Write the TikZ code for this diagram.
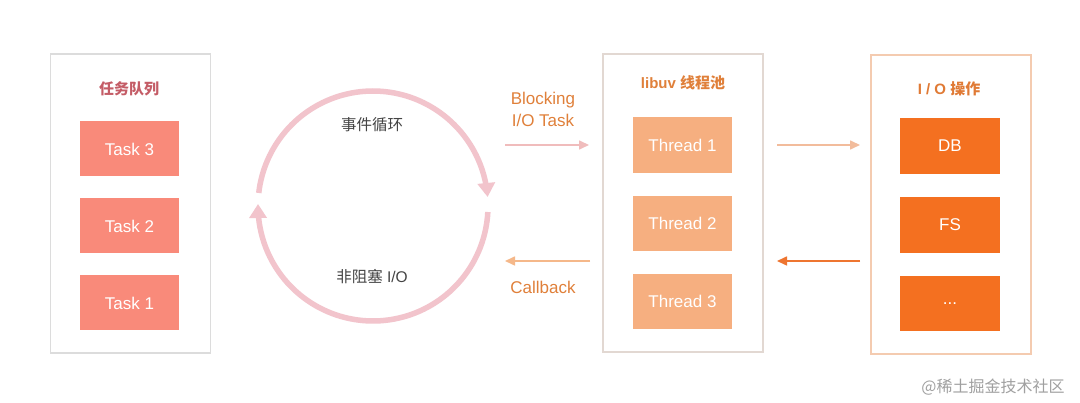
\documentclass[tikz,border=0pt]{standalone}
\usepackage{fontspec}
\setmainfont{Liberation Sans}
\newfontfamily\cjk{Noto Sans CJK SC}
\usetikzlibrary{arrows.meta}
\definecolor{taskfill}{HTML}{F98A7A}
\definecolor{taskttl}{HTML}{C45C66}
\definecolor{thrfill}{HTML}{F6AF80}
\definecolor{orgtxt}{HTML}{E0803A}
\definecolor{iofill}{HTML}{F47020}
\definecolor{iottl}{HTML}{E07A35}
\definecolor{ringc}{HTML}{F2C4CC}
\definecolor{bordL}{HTML}{DCDCDC}
\definecolor{bordM}{HTML}{E2D8D2}
\definecolor{bordR}{HTML}{F4CBB0}
\definecolor{arrPink}{HTML}{F0BCBC}
\definecolor{arrLOrg}{HTML}{F5B88A}
\definecolor{arrLOrg2}{HTML}{F2BC9C}
\definecolor{arrOrg}{HTML}{EE7530}
\definecolor{darktxt}{HTML}{444444}
\definecolor{wmark}{HTML}{A0A0A0}
\tikzset{
  panel/.style={draw, line width=1.2pt, minimum width=160pt, inner sep=0pt},
  boxbase/.style={minimum width=99pt, minimum height=55pt, inner sep=0pt, text=white, font=\fontsize{17}{20}\selectfont},
  taskbox/.style={boxbase, fill=taskfill},
  thrbox/.style={boxbase, fill=thrfill},
  iobox/.style={boxbase, fill=iofill, minimum width=100pt},
  ttl/.style={font=\fontsize{15}{18}\selectfont\bfseries, inner sep=0pt},
  lbl/.style={font=\fontsize{17}{22}\selectfont, text=orgtxt, align=center, inner sep=0pt},
  ringlbl/.style={font=\fontsize{15.5}{18}\selectfont, text=darktxt, inner sep=0pt},
  flowarrow/.style={line width=1.6pt, -{Triangle[length=10pt,width=9pt]}},
  ring/.style={line width=5.5pt, ringc, -{Triangle[length=14pt,width=17pt]}}
}
\begin{document}
\begin{tikzpicture}[x=1pt,y=-1pt]
\useasboundingbox[fill=white] (0,0) rectangle (1080,403);

% panels
\node[panel, draw=bordL, minimum height=299pt] (qpanel) at (130.5,203.5) {};
\node[panel, draw=bordM, minimum height=298pt] (tpanel) at (683,203) {};
\node[panel, draw=bordR, minimum height=299pt] (iopanel) at (951,204.5) {};

% titles
\node[ttl, text=taskttl] (qtitle) at (129,89) {\cjk 任务队列};
\node[ttl, text=orgtxt] (ttitle) at (683,83) {libuv {\cjk 线程池}};
\node[ttl, text=iottl] (iotitle) at (949,89) {I / O {\cjk 操作}};

% tasks
\node[taskbox] (task3) at (129.5,149) {Task 3};
\node[taskbox] (task2) at (129.5,226) {Task 2};
\node[taskbox] (task1) at (129.5,303) {Task 1};

% threads
\node[thrbox, minimum height=56pt] (thr1) at (682.5,145) {Thread 1};
\node[thrbox] (thr2) at (682.5,223.5) {Thread 2};
\node[thrbox] (thr3) at (682.5,301.5) {Thread 3};

% io
\node[iobox, minimum height=56pt] (db) at (950,146) {DB};
\node[iobox, minimum height=56pt] (fs) at (950,225) {FS};
\node[iobox, minimum height=55pt] (etc) at (950,303.5) {...};

% event loop ring
\draw[ring] plot[domain=173.5:4.5, samples=80] ({373+115*cos(\x)},{206-115*sin(\x)});
\draw[ring] plot[domain=-3:-181, samples=80] ({373+115*cos(\x)},{206-115*sin(\x)});
\node[ringlbl] (looplbl) at (372,125) {\cjk 事件循环};
\node[ringlbl] (niolbl) at (372,277) {{\cjk 非阻塞} I/O};

% middle labels and arrows
\node[lbl] (blk) at (543,109) {Blocking\\I/O Task};
\node[lbl] (cb) at (543,287) {Callback};
\coordinate (b1) at (505,145);
\coordinate (b2) at (589,145);
\draw[flowarrow, arrPink] (b1) -- (b2);
\coordinate (c1) at (590,261);
\coordinate (c2) at (505,261);
\draw[flowarrow, arrLOrg] (c1) -- (c2);

% right arrows
\coordinate (d1) at (777,145);
\coordinate (d2) at (860,145);
\draw[flowarrow, arrLOrg2] (d1) -- (d2);
\coordinate (e1) at (860,261);
\coordinate (e2) at (777,261);
\draw[flowarrow, arrOrg] (e1) -- (e2);

% watermark
\node[font=\cjk\fontsize{16}{18}\selectfont, text=wmark, inner sep=0pt] (wm) at (993,387) {@稀土掘金技术社区};
\end{tikzpicture}
\end{document}
